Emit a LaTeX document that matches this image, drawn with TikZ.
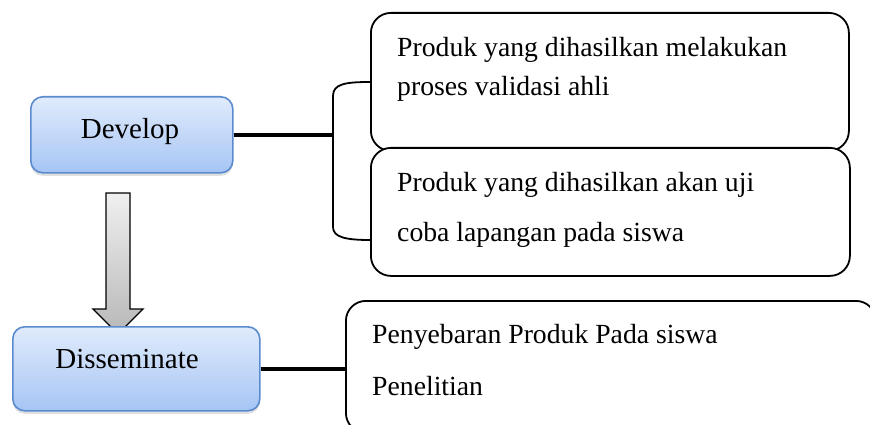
\documentclass[tikz,border=0pt]{standalone}
\usepackage{fontspec}
\setmainfont{Liberation Serif}
\usetikzlibrary{shadows}
\definecolor{blueborder}{HTML}{5B8BCF}
\definecolor{bluetop}{HTML}{E0EBFC}
\definecolor{bluebottom}{HTML}{A6C5F4}
\tikzset{
  stagebox/.style={draw=blueborder, line width=1.6pt, rounded corners=12pt,
    top color=bluetop, bottom color=bluebottom, anchor=north west,
    drop shadow={shadow xshift=0pt, shadow yshift=-3pt, opacity=0.25, fill=gray},
    font=\fontsize{29}{34}\selectfont, inner sep=0pt},
  infobox/.style={draw=black, line width=1.8pt, rounded corners=20pt, fill=white,
    anchor=north west, inner sep=0pt},
  infotext/.style={anchor=west, inner sep=0pt, font=\fontsize{27.7}{33}\selectfont},
  link/.style={line width=4.5pt, black},
  bracketline/.style={line width=1.8pt, black},
}
\begin{document}
\begin{tikzpicture}[x=1pt, y=-1pt]
\clip (0,0) rectangle (870,425);
\useasboundingbox (0,0) rectangle (870,425);
\fill[white] (0,0) rectangle (870,425);

% down arrow
\path[draw=black, line width=1.3pt, top color=white!94!black, bottom color=white!72!black]
  (106,193) -- (130,193) -- (130,309) -- (143,309) -- (118,334) -- (93,309) -- (106,309) -- cycle;

% left stage boxes
\node[stagebox, minimum width=202pt, minimum height=76pt] (dev) at (30,96) {};
\node (devtext) at (130,132) {\fontsize{29}{34}\selectfont Develop};
\node[stagebox, minimum width=247pt, minimum height=84pt] (dis) at (12,326) {};
\node (distext) at (127,359) {\fontsize{29}{34}\selectfont Disseminate};

% right info boxes
\node[infobox, minimum width=478pt, minimum height=138pt] (b1) at (370,12) {};
\node[infobox, minimum width=479pt, minimum height=128pt] (b2) at (370,147) {};
\node[infobox, minimum width=530pt, minimum height=132pt] (b3) at (345,300) {};

\node[infotext] (t1a) at (397,50) {Produk yang dihasilkan melakukan};
\node[infotext] (t1b) at (397,89) {proses validasi ahli};
\node[infotext] (t2a) at (397,185) {Produk yang dihasilkan akan uji};
\node[infotext] (t2b) at (397,235) {coba lapangan pada siswa};
\node[infotext] (t3a) at (372,337) {Penyebaran Produk Pada siswa};
\node[infotext] (t3b) at (372,386) {Penelitian};

% bracket and connectors
\coordinate (brk) at (333,132);
\coordinate (brtop) at (370,82);
\coordinate (brbot) at (370,240);
\draw[bracketline] (brtop) .. controls (345,82) and (333,84) .. (333,96) -- (333,227) .. controls (333,237) and (345,240) .. (brbot);
\draw[link] (dev.east) -- (dev.east -| brk);
\draw[link] (dis.east) -- (dis.east -| b3.west);
\end{tikzpicture}
\end{document}
